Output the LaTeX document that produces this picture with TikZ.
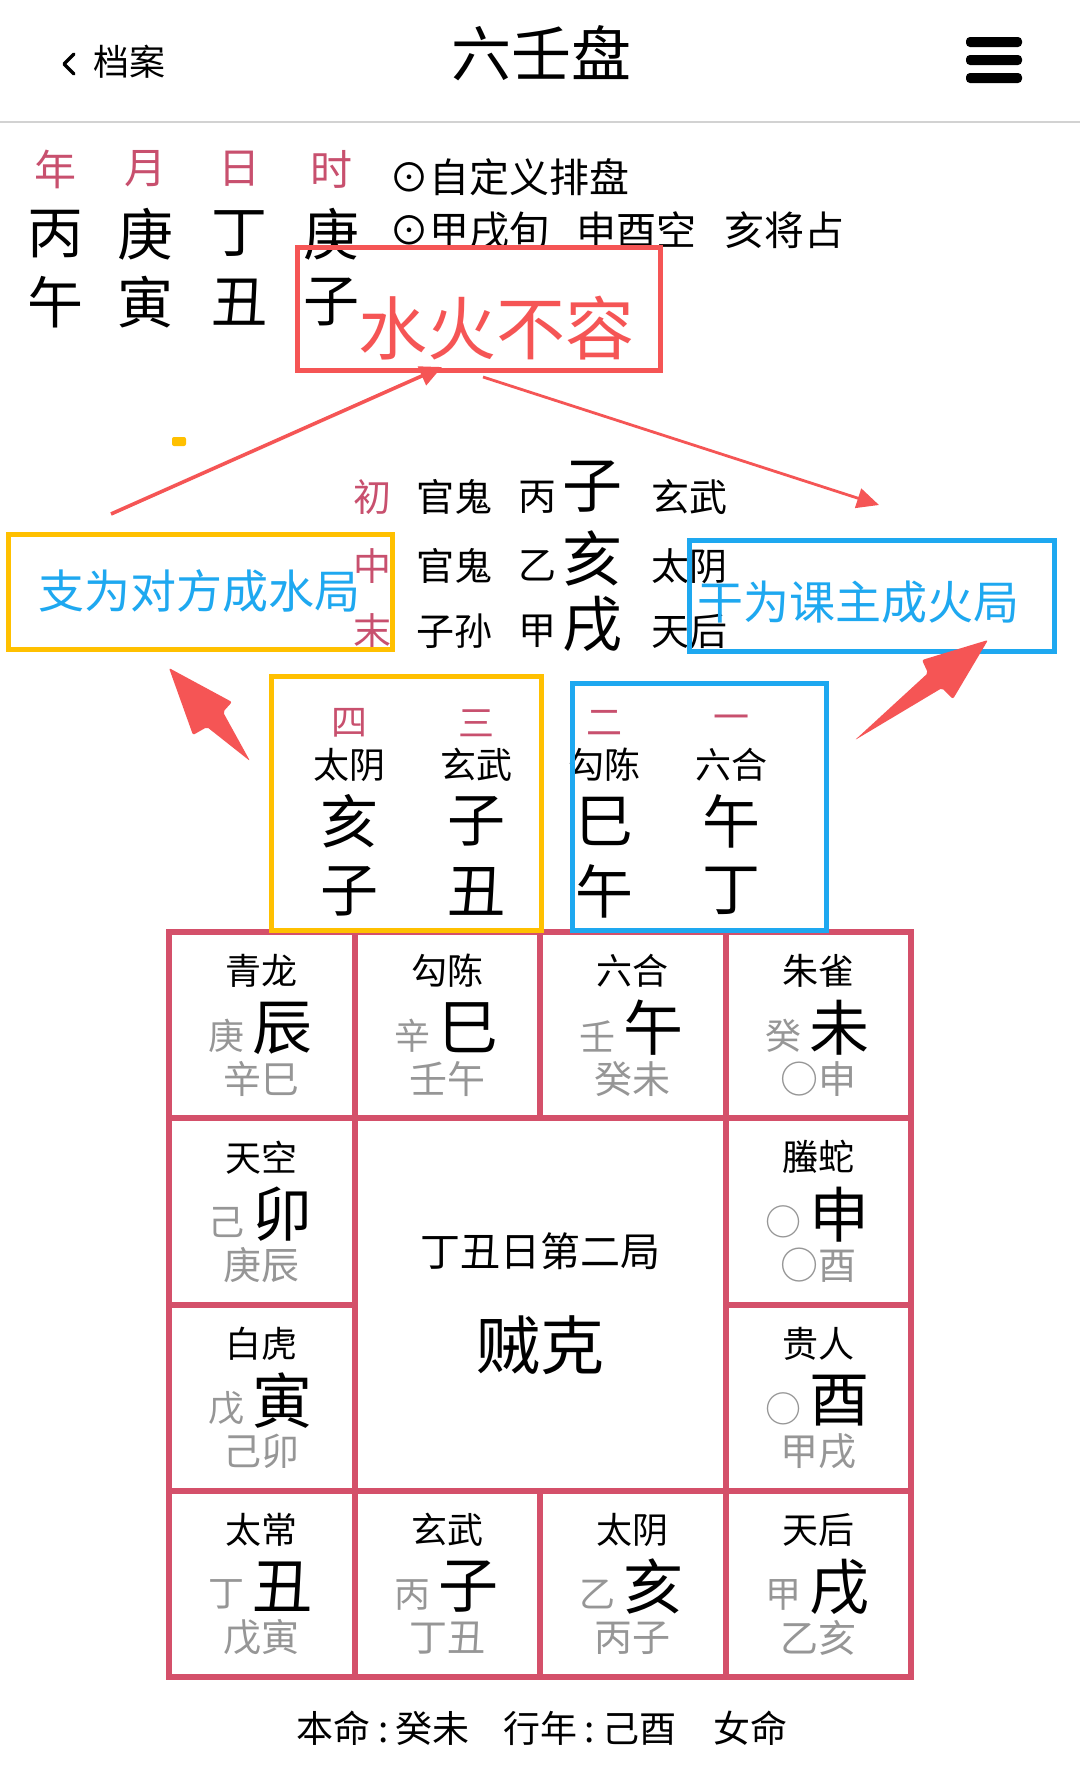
\documentclass[tikz,border=0pt]{standalone}
\usepackage{fontspec}
\setmainfont{Noto Sans CJK SC}
\usetikzlibrary{arrows.meta}
\definecolor{pinklab}{RGB}{200,80,110}
\definecolor{annred}{RGB}{245,85,85}
\definecolor{annyel}{RGB}{255,192,0}
\definecolor{annblue}{RGB}{30,168,240}
\definecolor{gridred}{RGB}{212,80,106}
\definecolor{graytext}{RGB}{150,150,150}
\tikzset{
  fz/.style={font=\fontsize{#1pt}{#1pt}\selectfont},
  smt/.style={fz=18},
  bigc/.style={fz=29},
  lab/.style={fz=18,text=pinklab},
  gry/.style={fz=18,text=graytext},
  yelbox/.style={draw=annyel,line width=2.5pt},
  bluebox/.style={draw=annblue,line width=2.5pt},
  thinarrow/.style={draw=annred,line width=1.8pt,-{Triangle[length=11pt,width=10pt]}},
  fatarrow/.style={fill=annred},
  gridline/.style={draw=gridred,line width=3pt}
}
\begin{document}
\begin{tikzpicture}[x=0.5pt,y=-0.5pt,every node/.style={inner sep=0pt,outer sep=0pt}]
\useasboundingbox (0,0) rectangle (1080,1779);
\fill[white] (0,0) rectangle (1080,1779);

% header
\draw[line width=1.6pt,line cap=round,line join=round] (74,54) -- (64,64) -- (74,74);
\node[fz=18] (back) at (129,62) {档案};
\node[fz=30] (title) at (541,53) {六壬盘};
\fill[rounded corners=2pt] (966,37) rectangle (1022,47);
\fill[rounded corners=2pt] (966,55) rectangle (1022,65);
\fill[rounded corners=2pt] (966,73) rectangle (1022,83);
\draw[gray!35,line width=1pt] (0,122) -- (1080,122);

% four pillars
\foreach \px/\la/\st/\br [count=\i] in {55/年/丙/午,145/月/庚/寅,239/日/丁/丑,331/时/庚/子}{
  \node[fz=21,text=pinklab] (pl\i) at (\px,169) {\la};
  \node[fz=28] (ps\i) at (\px,234) {\st};
  \node[fz=28] (pb\i) at (\px,302) {\br};
}
\node[fz=20,anchor=west] (info1) at (389,177) {⊙自定义排盘};
\node[fz=20,anchor=west] (info2) at (389,230) {⊙甲戌旬\hspace{0.7em}申酉空\hspace{0.7em}亥将占};

% red box
\node[fz=34.5,text=annred] (shuihuo) at (496,328) {水火不容};
\draw[draw=annred,line width=2.5pt] (297,247) rectangle (660,370);

% three transmissions
\foreach \yy/\by/\la/\re/\st/\br/\gd [count=\i] in {497/487/初/官鬼/丙/子/玄武,566/558/中/官鬼/乙/亥/太阴,631/624/末/子孙/甲/戌/天后}{
  \node[lab,fz=19] (cl\i) at (372,\yy) {\la};
  \node[fz=19] (cr\i) at (454,\yy) {\re};
  \node[fz=19] (cs\i) at (537,\yy) {\st};
  \node[fz=30] (cb\i) at (592,\by) {\br};
  \node[fz=19] (cg\i) at (689,\yy) {\gd};
}

% annotation boxes
\draw[yelbox] (8,534) rectangle (392,649);
\node[fz=23,text=annblue] (zhi) at (200,591) {支为对方成水局};
\draw[bluebox] (689,540) rectangle (1054,651);
\node[fz=23,text=annblue] (gan) at (858,602) {干为课主成火局};
\fill[annyel,rounded corners=1pt] (172,437) rectangle (186,446);

% thin arrows
\coordinate (a1s) at (111,514);
\coordinate (a1e) at (442,367);
\coordinate (a2s) at (483,377);
\coordinate (a2e) at (879,505);
\draw[thinarrow] (a1s) -- (a1e);
\draw[thinarrow,line width=1.4pt] (a2s) -- (a2e);

% fat arrows
\fill[fatarrow,rounded corners=1pt] (169,668) -- (232,702) -- (223,712) -- (250,761) -- (207,727) -- (193,735) -- cycle;
\fill[fatarrow,rounded corners=1pt] (988,640) -- (922,660) -- (928,673) -- (855,740) -- (942,688) -- (953,699) -- cycle;

% four lessons
\foreach \lx/\num/\gd/\ta/\tb [count=\i] in {349/四/太阴/亥/子,476/三/玄武/子/丑,604/二/勾陈/巳/午,731/一/六合/午/丁}{
  \node[lab] (ln\i) at (\lx,723) {\num};
  \node[smt] (lg\i) at (\lx,765) {\gd};
  \node[bigc] (la\i) at (\lx,821) {\ta};
  \node[bigc] (lb\i) at (\lx,891) {\tb};
}

% grid
\draw[gridline] (169,932) rectangle (911,1677);
\draw[gridline] (354.5,932) -- (354.5,1677);
\draw[gridline] (725.5,932) -- (725.5,1677);
\draw[gridline] (540,932) -- (540,1118.25);
\draw[gridline] (540,1490.75) -- (540,1677);
\draw[gridline] (169,1118.25) -- (911,1118.25);
\draw[gridline] (169,1490.75) -- (911,1490.75);
\draw[gridline] (169,1304.5) -- (354.5,1304.5);
\draw[gridline] (725.5,1304.5) -- (911,1304.5);

\draw[yelbox] (271,676) rectangle (541,930);
\draw[bluebox] (572,683) rectangle (826,930);

\foreach \cx/\ty/\xna/\xlf/\xbg/\xbt [count=\i] in {
  261.75/932/青龙/庚/辰/辛巳,
  447.25/932/勾陈/辛/巳/壬午,
  632.75/932/六合/壬/午/癸未,
  818.25/932/朱雀/癸/未/○申,
  261.75/1118.25/天空/己/卯/庚辰,
  818.25/1118.25/螣蛇/○/申/○酉,
  261.75/1304.5/白虎/戊/寅/己卯,
  818.25/1304.5/贵人/○/酉/甲戌,
  261.75/1490.75/太常/丁/丑/戊寅,
  447.25/1490.75/玄武/丙/子/丁丑,
  632.75/1490.75/太阴/乙/亥/丙子,
  818.25/1490.75/天后/甲/戌/乙亥}{
  \node[smt] (gn\i) at (\cx,\ty+39) {\xna};
  \node[gry] (gl\i) at (\cx-35,\ty+104) {\xlf};
  \node[fz=30] (gb\i) at (\cx+21,\ty+96) {\xbg};
  \node[gry,fz=19] (gs\i) at (\cx,\ty+147) {\xbt};
}

\node[fz=20] (ju) at (540,1251) {丁丑日第二局};
\node[fz=32] (zk) at (540,1346) {贼克};

\node[fz=18.5] (foot) at (542,1728) {本命\hspace{0.2em}:\hspace{0.2em}癸未\hspace{0.9em}行年\hspace{0.2em}:\hspace{0.2em}己酉\hspace{1em}女命};
\end{tikzpicture}
\end{document}
